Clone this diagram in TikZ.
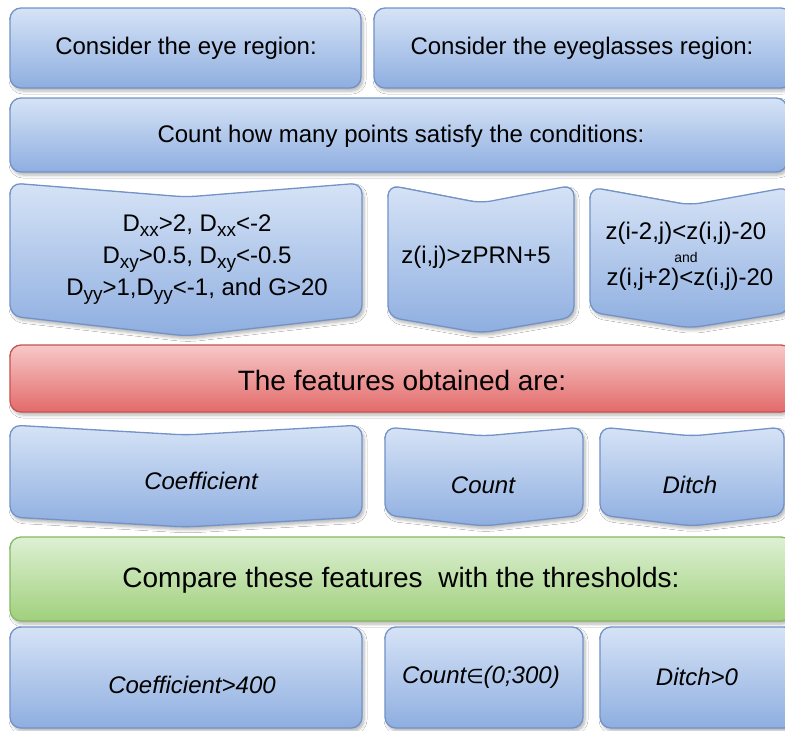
\documentclass[tikz,border=0pt]{standalone}
\usepackage{fontspec}
\setmainfont{Liberation Sans}
\newfontfamily\dejavu{DejaVu Sans}
\usetikzlibrary{shadows.blur}
\definecolor{bTop}{HTML}{D6E3F6}
\definecolor{bBot}{HTML}{8EAEE0}
\definecolor{bLine}{HTML}{7393C8}
\definecolor{rTop}{HTML}{F7C8C8}
\definecolor{rBot}{HTML}{E36A6A}
\definecolor{rLine}{HTML}{C65350}
\definecolor{gTop}{HTML}{DDF0D4}
\definecolor{gBot}{HTML}{A0D07C}
\definecolor{gLine}{HTML}{86B865}
\newcommand\sbx[1]{\raisebox{-5pt}{\fontsize{19}{19}\selectfont #1}}
\tikzset{
  shadowed/.style={blur shadow={shadow xshift=2pt, shadow yshift=-3pt, shadow blur steps=6, shadow blur radius=3pt, shadow opacity=30}},
  bluebox/.style={shadowed, top color=bTop, bottom color=bBot, draw=bLine, line width=1.3pt, rounded corners=11pt},
  redbox/.style={shadowed, top color=rTop, bottom color=rBot, draw=rLine, line width=1.3pt, rounded corners=11pt},
  greenbox/.style={shadowed, top color=gTop, bottom color=gBot, draw=gLine, line width=1.3pt, rounded corners=11pt},
  lbl/.style={inner sep=0pt, font=\fontsize{24}{30}\selectfont, text=black},
  biglbl/.style={inner sep=0pt, font=\fontsize{28}{34}\selectfont, text=black},
  itl/.style={inner sep=0pt, font=\fontsize{24}{30}\selectfont\itshape, text=black},
}
\begin{document}
\begin{tikzpicture}[x=1pt,y=-1pt]
\useasboundingbox (0,0) rectangle (785,731);
\fill[white] (0,0) rectangle (785,731);
\begin{scope}
\clip (0,0) rectangle (785,731);
% row 1
\draw[bluebox] (10,8) rectangle (361,88);
\draw[bluebox] (374,8) rectangle (792,88);
% row 2
\draw[bluebox] (10,98) rectangle (787,172);
% row 3 chevrons
\draw[bluebox] (10,250) -- (10,183) -- (186,197) -- (362,183) -- (362,316) -- (186,336) -- (10,316) -- cycle;
\draw[bluebox] (388,250) -- (388,185) -- (481,203) -- (574,185) -- (574,317) -- (481,333) -- (388,317) -- cycle;
\draw[bluebox] (590,250) -- (590,187) -- (690,205) -- (790,187) -- (790,312) -- (690,328) -- (590,312) -- cycle;
% row 4
\draw[redbox] (10,345) rectangle (792,412);
% row 5 chevrons
\draw[bluebox] (10,470) -- (10,425) -- (186,435) -- (362,425) -- (362,517) -- (186,527) -- (10,517) -- cycle;
\draw[bluebox] (385,470) -- (385,427) -- (484,436) -- (583,427) -- (583,515) -- (484,526) -- (385,515) -- cycle;
\draw[bluebox] (600,470) -- (600,427) -- (692,436) -- (784,427) -- (784,515) -- (692,526) -- (600,515) -- cycle;
% row 6
\draw[greenbox] (10,537) rectangle (792,621);
% row 7
\draw[bluebox] (10,627) rectangle (362,728);
\draw[bluebox] (385,627) rectangle (583,728);
\draw[bluebox] (600,627) rectangle (795,728);
\end{scope}
% texts
\node[lbl] (eye) at (186,48) {Consider the eye region:};
\node[lbl] (glass) at (582,48) {Consider the eyeglasses region:};
\node[lbl] (count) at (401,136) {Count how many points satisfy the conditions:};
\node[lbl, align=center, font=\fontsize{24}{32}\selectfont] (cond1) at (197,260)
  {D\sbx{xx}>2, D\sbx{xx}<-2\\D\sbx{xy}>0.5, D\sbx{xy}<-0.5\\D\sbx{yy}>1,D\sbx{yy}<-1, and G>20};
\node[lbl] (cond2) at (476,257) {z(i,j)>zPRN+5};
\node[lbl] (cond3a) at (686,233) {z(i-2,j)<z(i,j)-20};
\node[inner sep=0pt, font=\fontsize{14}{16}\selectfont] (cond3b) at (686,257) {and};
\node[lbl] (cond3c) at (690,279) {z(i,j+2)<z(i,j)-20};
\node[biglbl] (feat) at (402,380) {The features obtained are:};
\node[itl] (coef) at (201,481) {Coefficient};
\node[itl] (cnt) at (483,485) {Count};
\node[itl] (ditch) at (690,485) {Ditch};
\node[biglbl] (cmp) at (401,580) {Compare these features\ \ with the thresholds:};
\node[itl] (coefT) at (192,685) {Coefficient>400};
\node[itl] (cntT) at (481,677) {Count{\dejavu\itshape\fontsize{20}{20}\selectfont ∈}(0;300)};
\node[itl] (ditchT) at (697,677) {Ditch>0};
\end{tikzpicture}
\end{document}
